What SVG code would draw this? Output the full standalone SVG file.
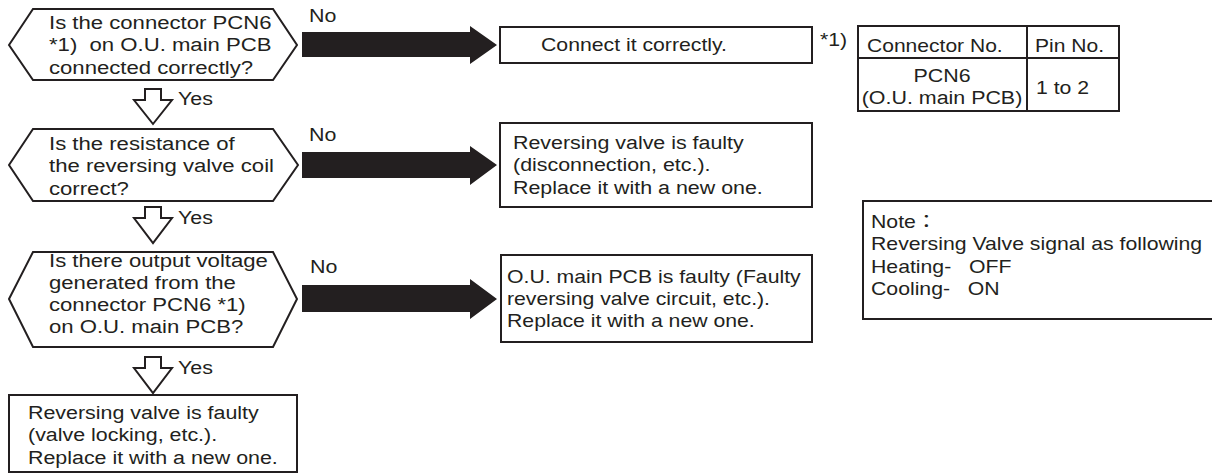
<svg xmlns="http://www.w3.org/2000/svg" width="1212" height="476" viewBox="0 0 1212 476">
<style>
.t{font-family:"Liberation Sans",Arial,"Noto Sans CJK JP",sans-serif;font-size:18px;fill:#231f20}
.s{fill:#fff;stroke:#231f20;stroke-width:2}
.a{fill:#231f20;stroke:none}
.h{fill:#fff;stroke:#231f20;stroke-width:2;stroke-linejoin:miter}
</style>
<rect width="1212" height="476" fill="#fff"/>
<g id="connectors">
<polygon class="a" points="302,32 470,32 470,26 497,45 470,64 470,57 302,57"/>
<polygon class="a" points="302,152 470,152 470,146 497,165 470,185 470,178 302,178"/>
<polygon class="a" points="302,285 470,285 470,279 497,299 470,319 470,312 302,312"/>
<polygon class="h" points="145,89 161,89 161,100 172,100 153,124 134,100 145,100"/>
<polygon class="h" points="145,207 161,207 161,218 172,218 153,243 134,218 145,218"/>
<polygon class="h" points="145,357 161,357 161,368 172,368 153,393 134,368 145,368"/>
<text class="t" transform="translate(309 22) scale(1.19 1)">No</text>
<text class="t" transform="translate(309 141) scale(1.19 1)">No</text>
<text class="t" transform="translate(310 273) scale(1.19 1)">No</text>
<text class="t" transform="translate(178 105) scale(1.19 1)">Yes</text>
<text class="t" transform="translate(178 224) scale(1.19 1)">Yes</text>
<text class="t" transform="translate(178 374) scale(1.19 1)">Yes</text>
</g>
<g id="d1">
<polygon class="s" points="9,45 33,9 273,9 297,45 273,80 33,80"/>
<text class="t" transform="translate(49 29) scale(1.23 1)"><tspan x="0" y="0">Is the connector PCN6</tspan><tspan x="0" dy="22.5">*1)&#160; on O.U. main PCB</tspan><tspan x="0" dy="22.5">connected correctly?</tspan></text>
</g>
<g id="d2">
<polygon class="s" points="9,165 33,129 273,129 298,165 273,201 33,201"/>
<text class="t" transform="translate(49 150) scale(1.23 1)"><tspan x="0" y="0">Is the resistance of</tspan><tspan x="0" dy="22.5">the reversing valve coil</tspan><tspan x="0" dy="22.5">correct?</tspan></text>
</g>
<g id="d3">
<polygon class="s" points="9,299 33,252 273,252 297,299 273,347 33,347"/>
<text class="t" transform="translate(49 267) scale(1.23 1)"><tspan x="0" y="0">Is there output voltage</tspan><tspan x="0" dy="22">generated from the</tspan><tspan x="0" dy="22">connector PCN6 *1)</tspan><tspan x="0" dy="22">on O.U. main PCB?</tspan></text>
</g>
<g id="b1">
<rect class="s" x="500" y="27" width="312" height="36"/>
<text class="t" transform="translate(541 51) scale(1.18 1)">Connect it correctly.</text>
</g>
<g id="b2">
<rect class="s" x="500" y="123" width="312" height="84"/>
<text class="t" transform="translate(513 149) scale(1.19 1)"><tspan x="0" y="0">Reversing valve is faulty</tspan><tspan x="0" dy="22.5">(disconnection, etc.).</tspan><tspan x="0" dy="22.5">Replace it with a new one.</tspan></text>
</g>
<g id="b3">
<rect class="s" x="501" y="255" width="311" height="87"/>
<text class="t" transform="translate(507 283) scale(1.18 1)"><tspan x="0" y="0">O.U. main PCB is faulty (Faulty</tspan><tspan x="0" dy="22">reversing valve circuit, etc.).</tspan><tspan x="0" dy="22">Replace it with a new one.</tspan></text>
</g>
<g id="b4">
<rect class="s" x="9" y="395" width="288" height="77"/>
<text class="t" transform="translate(28 419) scale(1.19 1)"><tspan x="0" y="0">Reversing valve is faulty</tspan><tspan x="0" dy="22.5">(valve locking, etc.).</tspan><tspan x="0" dy="22.5">Replace it with a new one.</tspan></text>
</g>
<g id="table">
<text class="t" transform="translate(820 46) scale(1.18 1)">*1)</text>
<rect class="s" x="858" y="26" width="261" height="85"/>
<line x1="858" y1="58" x2="1119" y2="58" stroke="#231f20" stroke-width="2"/>
<line x1="1027" y1="26" x2="1027" y2="111" stroke="#231f20" stroke-width="2"/>
<text class="t" transform="translate(867 52) scale(1.17 1)">Connector No.</text>
<text class="t" transform="translate(1035 52) scale(1.17 1)">Pin No.</text>
<text class="t" text-anchor="middle" transform="translate(942 82) scale(1.19 1)"><tspan x="0" y="0">PCN6</tspan><tspan x="0" dy="22.5">(O.U. main PCB)</tspan></text>
<text class="t" transform="translate(1036 94) scale(1.18 1)">1 to 2</text>
</g>
<g id="note">
<rect class="s" x="863" y="201" width="354" height="118"/>
<text class="t" transform="translate(871 228) scale(1.18 1)"><tspan x="0" y="0">Note：</tspan><tspan x="0" dy="22.5">Reversing Valve signal as following</tspan><tspan x="0" dy="22.5">Heating-&#160;&#160; OFF</tspan><tspan x="0" dy="22.5">Cooling-&#160;&#160; ON</tspan></text>
</g>
</svg>
